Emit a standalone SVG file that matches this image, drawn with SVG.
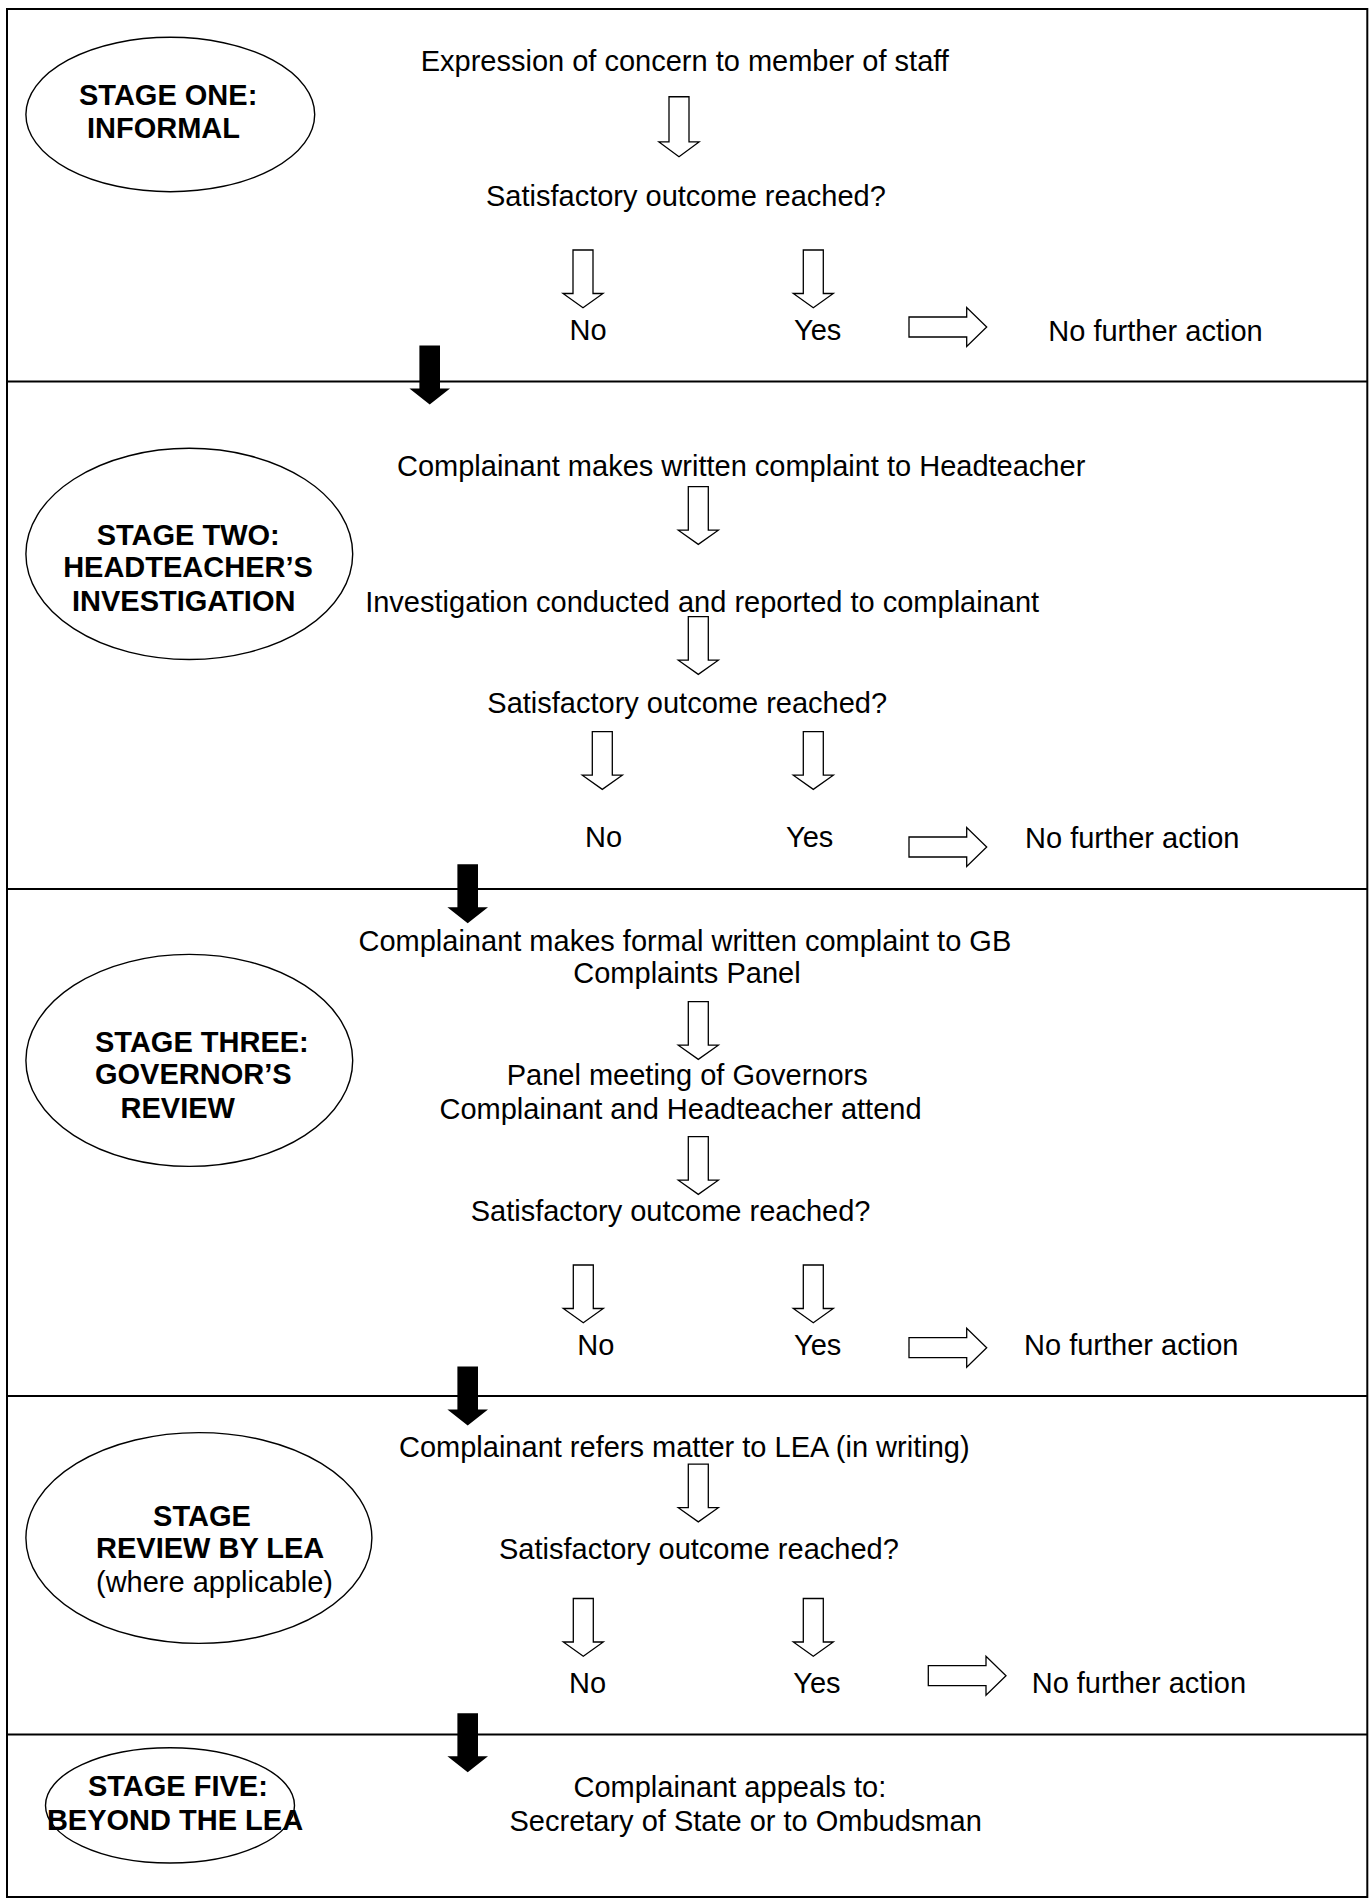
<svg xmlns="http://www.w3.org/2000/svg" xmlns:xlink="http://www.w3.org/1999/xlink" width="1371" height="1901" viewBox="0 0 1371 1901">
<style>
  text { font-family: "Liberation Sans", Arial, sans-serif; font-size: 29px; fill: #000; }
  .b { font-weight: bold; }
  .m { text-anchor: middle; }
  .frame { fill: none; stroke: #000; stroke-width: 2; }
  .ell { fill: none; stroke: #000; stroke-width: 1.4; }
  .hollow { fill: #fff; stroke: #000; stroke-width: 1.3; stroke-linejoin: miter; }
  .solid { fill: #000; stroke: none; }
</style>
<defs>
  <path id="down" d="M -10 0 L 10 0 L 10 43.5 L 20 43.5 L 0 57.7 L -20 43.5 L -10 43.5 Z"/>
  <path id="right" d="M 0 -10 L 57.7 -10 L 57.7 -19.5 L 77.7 0 L 57.7 19.5 L 57.7 10 L 0 10 Z"/>
  <path id="black" d="M -10.3 0 L 10.3 0 L 10.3 43 L 20.3 43 L 0 59 L -20.3 43 L -10.3 43 Z"/>
</defs>
<rect width="1371" height="1901" fill="#fff"/>

<g id="frame">
  <rect class="frame" x="7" y="9" width="1360.3" height="1888"/>
  <line class="frame" x1="7" y1="381.5" x2="1367.3" y2="381.5"/>
  <line class="frame" x1="7" y1="889" x2="1367.3" y2="889"/>
  <line class="frame" x1="7" y1="1396" x2="1367.3" y2="1396"/>
  <line class="frame" x1="7" y1="1734.5" x2="1367.3" y2="1734.5"/>
</g>

<!-- Stage ellipses -->
<g id="stage1">
  <ellipse class="ell" cx="170.3" cy="114.5" rx="144.4" ry="77.2"/>
  <text class="b" x="79" y="105">STAGE ONE:</text>
  <text class="b" x="87" y="138.3">INFORMAL</text>
</g>
<g id="stage2">
  <ellipse class="ell" cx="189.3" cy="553.9" rx="163.4" ry="105.6"/>
  <text class="b m" x="188.2" y="544.7">STAGE TWO:</text>
  <text class="b m" x="188" y="577.4">HEADTEACHER’S</text>
  <text class="b m" x="183.7" y="611.4">INVESTIGATION</text>
</g>
<g id="stage3">
  <ellipse class="ell" cx="189.3" cy="1060.4" rx="163.4" ry="106"/>
  <text class="b" x="95" y="1051.8">STAGE THREE:</text>
  <text class="b" x="95" y="1084.4">GOVERNOR’S</text>
  <text class="b" x="120.5" y="1118.4">REVIEW</text>
</g>
<g id="stage4">
  <ellipse class="ell" cx="198.9" cy="1538" rx="173" ry="105.4"/>
  <text class="b" x="153.1" y="1525.7">STAGE</text>
  <text class="b" x="96" y="1558.4">REVIEW BY LEA</text>
  <text x="96" y="1592.4">(where applicable)</text>
</g>
<g id="stage5">
  <ellipse class="ell" cx="170" cy="1805.4" rx="124.5" ry="57.6"/>
  <text class="b" x="87.9" y="1796.2">STAGE FIVE:</text>
  <text class="b" x="46.9" y="1829.6">BEYOND THE LEA</text>
</g>

<!-- Section 1 nodes -->
<g id="s1-concern"><text x="420.7" y="70.7">Expression of concern to member of staff</text></g>
<g id="s1-outcome"><text x="486" y="205.5">Satisfactory outcome reached?</text></g>
<g id="s1-no"><text x="569.5" y="340">No</text></g>
<g id="s1-yes"><text x="794" y="340">Yes</text></g>
<g id="s1-nfa"><text x="1048.3" y="340.5">No further action</text></g>

<!-- Section 2 nodes -->
<g id="s2-written"><text x="397" y="476.3">Complainant makes written complaint to Headteacher</text></g>
<g id="s2-investigation"><text x="365.2" y="611.5">Investigation conducted and reported to complainant</text></g>
<g id="s2-outcome"><text x="487.3" y="712.6">Satisfactory outcome reached?</text></g>
<g id="s2-no"><text x="585" y="846.7">No</text></g>
<g id="s2-yes"><text x="786" y="846.7">Yes</text></g>
<g id="s2-nfa"><text x="1025" y="848">No further action</text></g>

<!-- Section 3 nodes -->
<g id="s3-formal">
  <text x="358.5" y="951">Complainant makes formal written complaint to GB</text>
  <text x="573.3" y="983.3">Complaints Panel</text>
</g>
<g id="s3-panel">
  <text x="506.7" y="1085">Panel meeting of Governors</text>
  <text x="439.5" y="1119.3">Complainant and Headteacher attend</text>
</g>
<g id="s3-outcome"><text x="470.7" y="1221">Satisfactory outcome reached?</text></g>
<g id="s3-no"><text x="577.3" y="1354.5">No</text></g>
<g id="s3-yes"><text x="794" y="1354.5">Yes</text></g>
<g id="s3-nfa"><text x="1024" y="1355">No further action</text></g>

<!-- Section 4 nodes -->
<g id="s4-refers"><text x="399" y="1457">Complainant refers matter to LEA (in writing)</text></g>
<g id="s4-outcome"><text x="499" y="1559">Satisfactory outcome reached?</text></g>
<g id="s4-no"><text x="569" y="1693.3">No</text></g>
<g id="s4-yes"><text x="793.3" y="1693.3">Yes</text></g>
<g id="s4-nfa"><text x="1031.7" y="1692.7">No further action</text></g>

<!-- Section 5 node -->
<g id="s5-appeal">
  <text x="573.5" y="1796.7">Complainant appeals to:</text>
  <text x="509.5" y="1830.7">Secretary of State or to Ombudsman</text>
</g>

<!-- Connectors -->
<g id="connectors">
  <!-- section 1 -->
  <use xlink:href="#down" href="#down" class="hollow" transform="translate(679,96.7) scale(1,1.04)"/>
  <use xlink:href="#down" href="#down" class="hollow" transform="translate(583,250)"/>
  <use xlink:href="#down" href="#down" class="hollow" transform="translate(813.3,250)"/>
  <use xlink:href="#right" href="#right" class="hollow" transform="translate(909,327)"/>
  <use xlink:href="#black" href="#black" class="solid" transform="translate(429.7,345.5)"/>
  <!-- section 2 -->
  <use xlink:href="#down" href="#down" class="hollow" transform="translate(698.3,486.7)"/>
  <use xlink:href="#down" href="#down" class="hollow" transform="translate(698.3,616.7)"/>
  <use xlink:href="#down" href="#down" class="hollow" transform="translate(602.3,731.7)"/>
  <use xlink:href="#down" href="#down" class="hollow" transform="translate(813.3,731.7)"/>
  <use xlink:href="#right" href="#right" class="hollow" transform="translate(909,847)"/>
  <use xlink:href="#black" href="#black" class="solid" transform="translate(467.7,864.3)"/>
  <!-- section 3 -->
  <use xlink:href="#down" href="#down" class="hollow" transform="translate(698.3,1001.7)"/>
  <use xlink:href="#down" href="#down" class="hollow" transform="translate(698.3,1136.7)"/>
  <use xlink:href="#down" href="#down" class="hollow" transform="translate(583.3,1265)"/>
  <use xlink:href="#down" href="#down" class="hollow" transform="translate(813.3,1265)"/>
  <use xlink:href="#right" href="#right" class="hollow" transform="translate(909,1347.7)"/>
  <use xlink:href="#black" href="#black" class="solid" transform="translate(467.7,1366.5)"/>
  <!-- section 4 -->
  <use xlink:href="#down" href="#down" class="hollow" transform="translate(698.3,1464.2)"/>
  <use xlink:href="#down" href="#down" class="hollow" transform="translate(583.3,1598.5)"/>
  <use xlink:href="#down" href="#down" class="hollow" transform="translate(813.3,1598.5)"/>
  <use xlink:href="#right" href="#right" class="hollow" transform="translate(928.3,1675.7)"/>
  <use xlink:href="#black" href="#black" class="solid" transform="translate(467.7,1713.3)"/>
</g>
</svg>
